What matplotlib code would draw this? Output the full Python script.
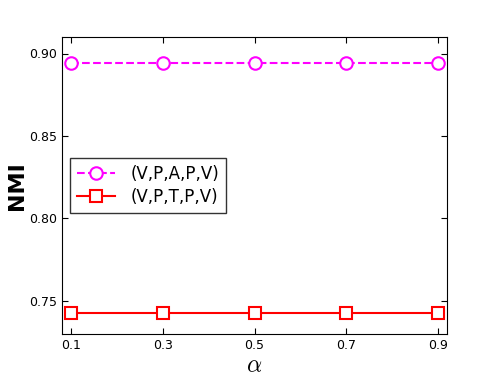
import matplotlib
matplotlib.use("Agg")
from matplotlib import pyplot as plt

plt.rcParams['mathtext.fontset'] = 'cm'

# data
alpha = [0.1, 0.3, 0.5, 0.7, 0.9]
nmi_vpapv = [0.894, 0.894, 0.894, 0.894, 0.894]
nmi_vptpv = [0.743, 0.743, 0.743, 0.743, 0.743]
xticks = [0.1, 0.3, 0.5, 0.7, 0.9]
yticks = [0.75, 0.80, 0.85, 0.90]

fig = plt.figure(figsize=(4.98, 3.74), dpi=100)
ax = fig.add_axes([62/498, 1 - 334/374, (447-62)/498, (334-37)/374])

ax.plot(alpha, nmi_vpapv, color='magenta', linestyle='--', linewidth=1.5,
        marker='o', markersize=9, markerfacecolor='white',
        markeredgecolor='magenta', markeredgewidth=1.5, label='(V,P,A,P,V)')
ax.plot(alpha, nmi_vptpv, color='red', linestyle='-', linewidth=1.5,
        marker='s', markersize=9, markerfacecolor='white',
        markeredgecolor='red', markeredgewidth=1.5, label='(V,P,T,P,V)')

ax.set_xlim(0.08, 0.92)
ax.set_ylim(0.73, 0.91)
ax.set_xticks(xticks)
ax.set_xticklabels(['0.1', '0.3', '0.5', '0.7', '0.9'])
ax.set_yticks(yticks)
ax.set_yticklabels(['0.75', '0.80', '0.85', '0.90'])
ax.tick_params(direction='in', top=True, right=True, labelsize=9, length=4)
ax.set_xlabel(r'$\alpha$', fontsize=17, va='center')
ax.set_ylabel('NMI', fontsize=16, fontweight='bold')
ax.xaxis.set_label_coords(0.5, -0.105)
ax.yaxis.set_label_coords(-0.091, 0.5)

leg = ax.legend(loc='center left', fontsize=12, fancybox=False,
                edgecolor='black', borderaxespad=0.5, numpoints=1,
                handlelength=2.3, handletextpad=0.9, borderpad=0.4,
                labelspacing=0.3)
leg.get_frame().set_linewidth(1.0)

fig.savefig('out.png', dpi=100)
